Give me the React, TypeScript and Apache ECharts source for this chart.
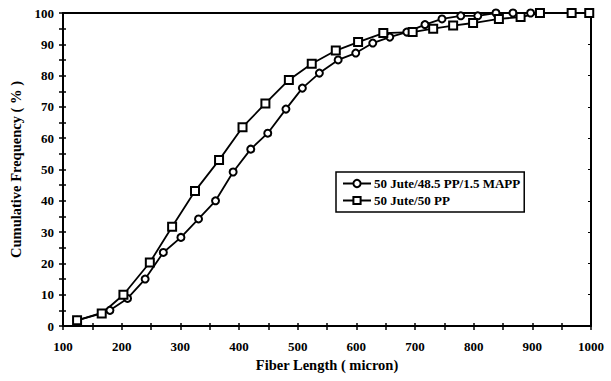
import React, { useEffect, useRef } from "react";
import * as echarts from "echarts";

const circleName = "50 Jute/48.5 PP/1.5 MAPP";
const squareName = "50 Jute/50 PP";

const circleX = [124, 180, 210, 240, 271, 301, 331, 360, 390, 420, 449, 480, 508, 537, 569, 599, 628, 657, 686, 717, 746, 778, 807, 838, 867, 897];
const circleY = [1.8, 5.0, 8.8, 15.0, 23.5, 28.3, 34.2, 40.0, 49.2, 56.5, 61.6, 69.3, 76.0, 80.8, 85.0, 87.2, 90.4, 92.3, 93.9, 96.3, 98.1, 99.1, 99.1, 100, 100, 100];

const squareX = [124, 166, 203, 248, 286, 325, 366, 406, 445, 485, 524, 565, 603, 646, 696, 731, 765, 799, 843, 880, 913, 967, 997];
const squareY = [1.8, 4.0, 10.0, 20.3, 31.7, 43.1, 53.0, 63.5, 71.1, 78.6, 83.8, 88.0, 90.7, 93.6, 93.9, 95.0, 96.0, 96.8, 98.1, 98.7, 100, 100, 100];

const xMin = 100, xMax = 1000, xStep = 100;
const yMin = 0, yMax = 100, yStep = 10;

const FONT = "'Liberation Serif', 'Times New Roman', serif";

export default function App() {
  const ref = useRef<HTMLDivElement>(null);
  useEffect(() => {
    if (!ref.current) return;
    const chart = echarts.init(ref.current, null, { renderer: "svg" });
    const lineStyle = { color: "#000", width: 1.8 };
    const baseX = { type: "value", min: xMin, max: xMax, interval: xStep, splitLine: { show: false } };
    const baseY = { type: "value", min: yMin, max: yMax, interval: yStep, splitLine: { show: false } };
    const plain = (v: number) => String(v);
    chart.setOption({
      animation: false,
      backgroundColor: "#fff",
      grid: { left: 63, top: 13, width: 528, height: 313, containLabel: false },
      legend: {
        orient: "vertical",
        left: 336,
        top: 172,
        padding: [5, 4, 5, 6],
        itemGap: 4,
        itemWidth: 28,
        itemHeight: 9,
        borderColor: "#000",
        borderWidth: 1.5,
        backgroundColor: "#fff",
        textStyle: { fontFamily: FONT, fontWeight: "bold", fontSize: 13, color: "#000", padding: [0, 0, 0, -2] },
        data: [circleName, squareName],
      },
      xAxis: [
        {
          ...baseX,
          position: "bottom",
          name: "Fiber Length ( micron)",
          nameLocation: "middle",
          nameGap: 31,
          nameTextStyle: { fontFamily: FONT, fontWeight: "bold", fontSize: 14.5, color: "#000" },
          axisLine: { onZero: false, lineStyle: { color: "#000", width: 2 } },
          axisTick: { inside: false, length: 4, lineStyle: { color: "#000", width: 1.5 } },
          minorTick: { show: true, splitNumber: 2, length: 4, lineStyle: { color: "#000", width: 1.5 } },
          axisLabel: { margin: 14, fontFamily: FONT, fontWeight: "bold", fontSize: 13, color: "#000", formatter: plain },
        },
        {
          ...baseX,
          position: "bottom",
          axisLine: { show: false, onZero: false },
          axisTick: { inside: true, length: 3, lineStyle: { color: "#000", width: 1.5 } },
          minorTick: { show: true, splitNumber: 2, length: 3, lineStyle: { color: "#000", width: 1.5 } },
          axisLabel: { show: false },
        },
        {
          ...baseX,
          position: "top",
          axisLine: { onZero: false, lineStyle: { color: "#000", width: 2 } },
          axisTick: { show: false },
          axisLabel: { show: false },
        },
      ],
      yAxis: [
        {
          ...baseY,
          position: "left",
          name: "Cumulative Frequency ( % )",
          nameLocation: "middle",
          nameGap: 37,
          nameTextStyle: { fontFamily: FONT, fontWeight: "bold", fontSize: 14.5, color: "#000" },
          axisLine: { onZero: false, lineStyle: { color: "#000", width: 2 } },
          axisTick: { inside: false, length: 4, lineStyle: { color: "#000", width: 1.5 } },
          minorTick: { show: true, splitNumber: 2, length: 4, lineStyle: { color: "#000", width: 1.5 } },
          axisLabel: { margin: 9, fontFamily: FONT, fontWeight: "bold", fontSize: 13, color: "#000", formatter: plain },
        },
        {
          ...baseY,
          position: "left",
          offset: 0,
          axisLine: { show: false, onZero: false },
          axisTick: { inside: true, length: 3, lineStyle: { color: "#000", width: 1.5 } },
          minorTick: { show: true, splitNumber: 2, length: 3, lineStyle: { color: "#000", width: 1.5 } },
          axisLabel: { show: false },
        },
        {
          ...baseY,
          position: "right",
          axisLine: { onZero: false, lineStyle: { color: "#000", width: 2 } },
          axisTick: { inside: true, length: 3, lineStyle: { color: "#000", width: 1 } },
          axisLabel: { show: false },
        },
      ],
      series: [
        {
          name: circleName,
          type: "line",
          xAxisIndex: 0,
          yAxisIndex: 0,
          data: circleX.map((x, i) => [x, circleY[i]]),
          symbol: "circle",
          symbolSize: 7,
          lineStyle,
          itemStyle: { color: "#fff", borderColor: "#000", borderWidth: 2 },
        },
        {
          name: squareName,
          type: "line",
          xAxisIndex: 0,
          yAxisIndex: 0,
          data: squareX.map((x, i) => [x, squareY[i]]),
          symbol: "rect",
          symbolSize: 8,
          lineStyle,
          itemStyle: { color: "#fff", borderColor: "#000", borderWidth: 2 },
        },
      ],
    });
    return () => chart.dispose();
  }, []);
  return <div ref={ref} style={{ width: 611, height: 381, position: "absolute", left: 0, top: 0 }} />;
}
